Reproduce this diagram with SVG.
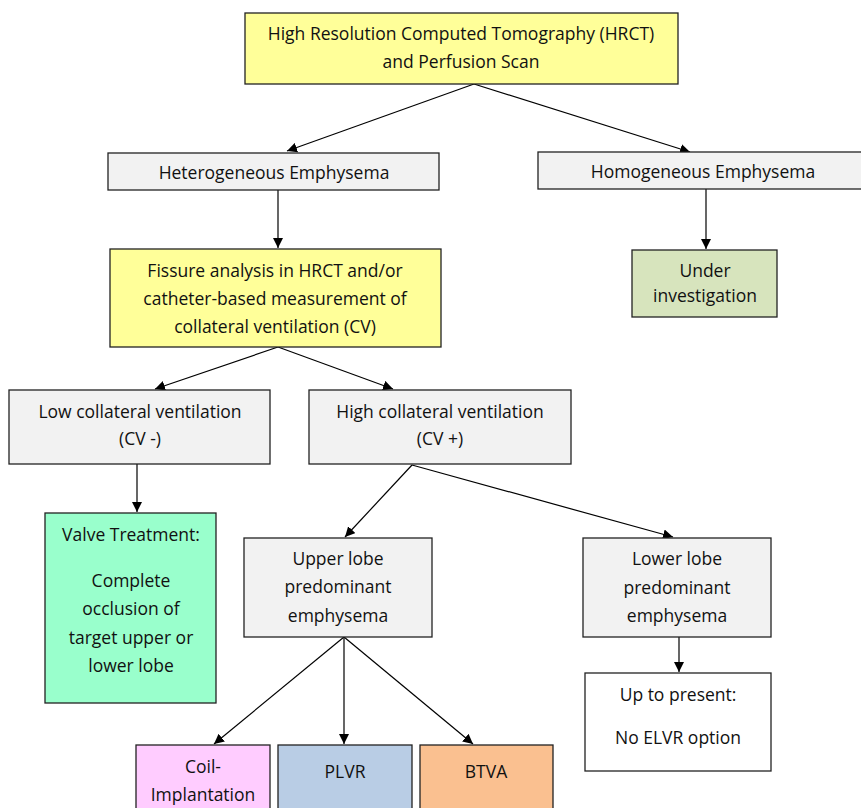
<svg xmlns="http://www.w3.org/2000/svg" width="861" height="808" viewBox="0 0 861 808">
<style>
.b{stroke:#222;stroke-width:1.3}
.g{fill:#f2f2f2}
text{font-family:"Open Sans","Noto Sans",sans-serif;font-size:17.5px;fill:#111;text-anchor:middle;dominant-baseline:central}
.c line{stroke:#000;stroke-width:1.2;marker-end:url(#a)}
</style>
<defs>
<marker id="a" viewBox="0 0 10 10" refX="10" refY="5" markerWidth="10" markerHeight="10" markerUnits="userSpaceOnUse" orient="auto">
<path d="M0,0 L10,5 L0,10 z" fill="#000"/>
</marker>
</defs>
<rect width="861" height="808" fill="#fff"/>
<g class="c">
<line x1="474" y1="84" x2="287" y2="151"/>
<line x1="474" y1="84" x2="690" y2="152"/>
<line x1="278" y1="190" x2="278" y2="248"/>
<line x1="706" y1="189" x2="706" y2="249"/>
<line x1="278" y1="347" x2="155" y2="389"/>
<line x1="278" y1="347" x2="393" y2="389"/>
<line x1="137" y1="464" x2="137" y2="512"/>
<line x1="412" y1="465" x2="345" y2="537"/>
<line x1="412" y1="465" x2="673" y2="537"/>
<line x1="344" y1="637" x2="214" y2="744"/>
<line x1="344" y1="637" x2="344" y2="744"/>
<line x1="344" y1="637" x2="473" y2="744"/>
<line x1="679" y1="637" x2="679" y2="672"/>
</g>
<g id="hrct"><rect class="b" x="245" y="13" width="433" height="71" fill="#ffff99"/>
<text x="461" y="33">High Resolution Computed Tomography (HRCT)</text>
<text x="461" y="61">and Perfusion Scan</text></g>
<g id="hetero"><rect class="b g" x="108" y="153" width="331" height="37"/>
<text x="274" y="172">Heterogeneous Emphysema</text></g>
<g id="homo"><rect class="b g" x="538" y="152" width="324" height="37"/>
<text x="703" y="171">Homogeneous Emphysema</text></g>
<g id="fissure"><rect class="b" x="110" y="249" width="331" height="98" fill="#ffff99"/>
<text x="275" y="270">Fissure analysis in HRCT and/or</text>
<text x="275" y="298">catheter-based measurement of</text>
<text x="275" y="326">collateral ventilation (CV)</text></g>
<g id="under"><rect class="b" x="632" y="250" width="145" height="67" fill="#d7e4bd"/>
<text x="705" y="270">Under</text>
<text x="705" y="295">investigation</text></g>
<g id="lowcv"><rect class="b g" x="9" y="390" width="261" height="74"/>
<text x="140" y="411">Low collateral ventilation</text>
<text x="140" y="438">(CV -)</text></g>
<g id="highcv"><rect class="b g" x="309" y="390" width="262" height="74"/>
<text x="440" y="411">High collateral ventilation</text>
<text x="440" y="438">(CV +)</text></g>
<g id="valve"><rect class="b" x="45" y="513" width="171" height="190" fill="#99ffcc"/>
<text x="131" y="534">Valve Treatment:</text>
<text x="131" y="580">Complete</text>
<text x="131" y="608">occlusion of</text>
<text x="131" y="637">target upper or</text>
<text x="131" y="665">lower lobe</text></g>
<g id="upper"><rect class="b g" x="244" y="538" width="188" height="99"/>
<text x="338" y="558">Upper lobe</text>
<text x="338" y="586">predominant</text>
<text x="338" y="615">emphysema</text></g>
<g id="lower"><rect class="b g" x="583" y="538" width="188" height="99"/>
<text x="677" y="558">Lower lobe</text>
<text x="677" y="587">predominant</text>
<text x="677" y="615">emphysema</text></g>
<g id="present"><rect class="b" x="585" y="673" width="186" height="98" fill="#fff"/>
<text x="678" y="694">Up to present:</text>
<text x="678" y="737">No ELVR option</text></g>
<g id="coil"><rect class="b" x="136" y="745" width="134" height="70" fill="#ffccff"/>
<text x="203" y="766">Coil-</text>
<text x="203" y="794">Implantation</text></g>
<g id="plvr"><rect class="b" x="278" y="745" width="134" height="70" fill="#b9cde5"/>
<text x="345" y="771">PLVR</text></g>
<g id="btva"><rect class="b" x="420" y="745" width="133" height="70" fill="#fac090"/>
<text x="486" y="771">BTVA</text></g>
</svg>
